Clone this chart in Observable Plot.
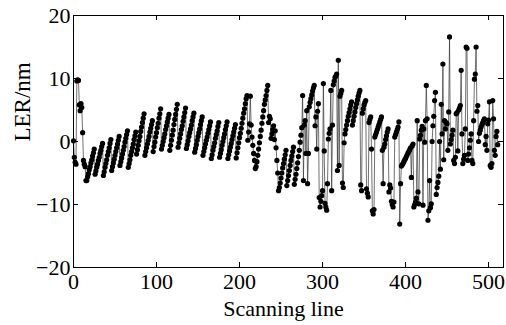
<!DOCTYPE html>
<html><head><meta charset="utf-8">
<script src="https://cdn.jsdelivr.net/npm/d3@7"></script>
<script src="https://cdn.jsdelivr.net/npm/@observablehq/plot@0.6"></script>
<style>body{margin:0;background:#fff} svg text{font-family:'Liberation Serif','Times New Roman',serif !important}</style>
</head><body><div id="chart"></div>
<script>
const xTicks = [0, 100, 200, 300, 400, 500];
const yTicks = [-20, -10, 0, 10, 20];
const xLabel = ["Scanning line"];
const yLabel = ["LER/nm"];

// LER per scanning line (lines 0..511)
const startSpike = [0.1, -2.5, -3.3, -3.6, 9.6, 9.8, 9.7, 5.8, 4.9, 6.0, 5.4, 1.4, -3.0, -3.6, -4.0, -6.2];
const sawtooth = [
  -6.2, -5.6, -5.1, -4.5, -4.0, -3.4, -2.9, -2.3, -1.8, -1.2,
  -5.2, -4.7, -4.1, -3.6, -3.0, -2.5, -1.9, -1.4, -0.8, -0.3,
  -5.4, -4.8, -4.1, -3.5, -2.9, -2.2, -1.6, -1.0, -0.3, 0.3,
  -4.6, -4.0, -3.4, -2.8, -2.2, -1.6, -1.0, -0.4, 0.2, 0.8,
  -3.8, -3.2, -2.6, -2.0, -1.4, -0.8, -0.1, 0.5, 1.1, 1.7,
  -4.1, -3.5, -2.9, -2.2, -1.6, -1.0, -0.4, 0.3, 0.9, 1.5,
  -2.0, -1.3, -0.6, 0.1, 0.8, 1.6, 2.3, 3.0, 3.7, 4.4,
  -2.2, -1.6, -1.0, -0.4, 0.2, 0.8, 1.5, 2.1, 2.7, 3.3,
  -1.6, -0.8, -0.1, 0.7, 1.4, 2.2, 2.9, 3.7, 4.4, 5.2,
  -1.2, -0.6, 0.0, 0.6, 1.2, 1.9, 2.5, 3.1, 3.7, 4.3,
  -1.4, -0.6, 0.2, 1.0, 1.8, 2.7, 3.5, 4.3, 5.1, 5.9,
  -0.9, -0.2, 0.5, 1.2, 1.9, 2.5, 3.2, 3.9, 4.6, 5.3,
  -1.1, -0.5, 0.1, 0.8, 1.4, 2.0, 2.6, 3.3, 3.9, 4.5,
  -1.7, -1.1, -0.5, 0.2, 0.8, 1.4, 2.0, 2.7, 3.3, 3.9,
  -2.2, -1.6, -1.0, -0.4, 0.2, 0.7, 1.3, 1.9, 2.5, 3.1,
  -2.7, -2.1, -1.4, -0.8, -0.2, 0.5, 1.1, 1.7, 2.4, 3.0,
  -2.5, -1.9, -1.3, -0.6, 0.0, 0.6, 1.2, 1.9, 2.5, 3.1,
  -2.7, -2.1, -1.5, -0.9, -0.3, 0.3, 0.9, 1.5, 2.1, 2.7,
  -2.6, -1.8, -1.0, -0.2, 0.6, 1.3, 2.1, 2.9, 3.7, 4.5
];
const transition = [
  5.2, 6.0, 6.8, 7.3, 0.2, 1.5, 2.8, 7.2, 2.6, 0.7,
  -0.6, -1.9, -3.0, -4.3, -4.0, -3.2, -2.2, -1.2, -0.2, 0.8,
  1.8, 2.9, 3.9, 4.9, 5.9, 6.6, 7.3, 8.1, 8.9, 3.0,
  4.0, 3.6, 0.5, 1.2, 1.9, 2.5, 0.3, 1.7, -1.0, -3.0,
  -5.0, -7.8
];
const lowTeeth = [
  -7.3, -6.6, -5.8, -5.0, -4.2, -3.5, -2.8, -2.1, -1.4,
  -7.0, -6.2, -5.4, -4.6, -3.8, -3.0, -2.3, -1.6, -0.9,
  -6.8, -6.0, -5.2, -4.3, -3.4, -2.4, -1.4
];
const chaotic = [
  -0.1, 1.0, 2.2, 7.3, -6.2, 2.6, 3.3, -1.9, 4.9, -6.7,
  -1.9, 5.5, 6.2, 6.8, 7.4, 8.0, 8.5, 8.9, 2.5, 3.9,
  -1.2, 4.8, 6.0, -8.9, -10.4, -9.5, -8.6, -7.8, 9.2, -1.5,
  -9.8, -10.4, -10.9, -6.7, 0.4, 1.3, 2.0, 8.1, -7.8, 2.6,
  9.0, 9.6, 10.2, 10.4, 10.7, -4.6, 12.9, -3.8, 7.2, 7.6,
  8.1, -6.6, -7.3, -0.2, 1.2, 1.9, 2.6, 3.3, 4.0, 4.6,
  5.2, 5.8, 6.3, 2.6, 3.3, 4.0, 4.7, 5.4, 6.0, 6.6,
  7.2, 7.7, 8.1, -6.9, -7.8, 4.5, 5.2, 5.8, 6.2, 6.5,
  -7.5, -8.2, -8.8, 3.0, 3.5, 3.9, -1.2, -11.0, -11.5, -10.8,
  0.7, 1.1, 1.5, 1.9, 2.3, 2.7, 3.1, 3.5, 3.9, -1.4,
  -6.7, -0.9, -0.4, 0.3, 0.9, 1.5, 2.0, -8.0, -6.9, -7.4,
  -9.5, -10.0, -10.4, -9.6, 0.7, 1.1, 1.5, 1.9, 2.3, 3.1,
  -13.1, -6.7, -3.9, -3.7, -3.5, -3.2, -2.9, -2.7, -2.4, -2.1,
  -1.8, -1.6, -1.3, -1.0, -5.7, -0.7, -0.4, -10.4, -10.0, -9.6,
  -9.0, 3.3, -8.0, -9.9, 0.4, 1.0, 1.8, 2.4, -10.1, 2.0,
  -0.1, 3.3, 8.9, 3.6, -12.5, -11.0, -6.2, -10.5, -9.9, 0.0,
  2.5, 4.0, 6.5, 7.8, -8.4, -7.3, -6.5, -5.5, 0.0, -4.4,
  5.9, 1.2, 12.3, -2.9, 3.3, 2.0, 3.0, 2.8, -1.4, 4.7,
  16.6, -0.4, 0.3, 1.0, 1.8, -3.0, -3.5, -2.5, 4.4, 4.6,
  -1.5, 5.0, 5.3, 5.7, 11.3, 1.2, -3.5, -2.8, -2.2, 2.0,
  15.0, 14.8, -3.0, -2.0, -1.0, 0.2, 1.2, -3.0, -3.5, 3.3,
  9.9, 10.7, 15.0, 4.8, 5.7, 0.0, 1.3, 1.8, 2.3, 2.7,
  3.0, 3.3, 3.6, -0.5, 0.8, -1.4, 2.8, 3.4, 6.3, -3.8,
  -4.1, -3.5, 6.5, 3.6, -1.4, -2.2, 0.8, 1.6, -0.5
];

const ler = [...startSpike, ...sawtooth, ...transition, ...lowTeeth, ...chaotic];
const data = ler.map((v, i) => ({line: i, ler: v}));
const serif = "'Liberation Serif', 'Times New Roman', serif";

const chart = Plot.plot({
  width: 506, height: 325,
  marginLeft: 73, marginRight: 3, marginTop: 15, marginBottom: 58,
  style: {fontFamily: serif, fontSize: "22px", background: "#fff", color: "#000"},
  x: {domain: [0, 518]},
  y: {domain: [-20, 20]},
  marks: [
    Plot.line(data, {x: "line", y: "ler", stroke: "#333", strokeWidth: 0.7}),
    Plot.dot(data, {x: "line", y: "ler", r: 2.6, fill: "#000", stroke: "none"}),
    Plot.frame({stroke: "#000", strokeWidth: 1}),
    Plot.tickX(xTicks, {x: d => d, insetTop: 247, stroke: "#000"}),
    Plot.tickX(xTicks, {x: d => d, insetBottom: 247, stroke: "#000"}),
    Plot.tickY(yTicks, {y: d => d, insetRight: 425, stroke: "#000"}),
    Plot.tickY(yTicks, {y: d => d, insetLeft: 425, stroke: "#000"}),
    Plot.axisX({ticks: xTicks, tickSize: 0, tickPadding: 6, label: null, fontSize: 22, fontFamily: serif}),
    Plot.axisY({ticks: yTicks, tickSize: 0, tickPadding: 3, label: null, fontSize: 22, fontFamily: serif}),
    Plot.text(xLabel, {text: d => d, frameAnchor: "bottom", dy: 48, dx: -5, fontSize: 22, fontFamily: serif, fill: "#000"}),
    Plot.text(yLabel, {text: d => d, frameAnchor: "left", dx: -51, rotate: -90, fontSize: 23, fontFamily: serif, fill: "#000"})
  ]
});
document.getElementById("chart").appendChild(chart);
</script>
</body></html>
